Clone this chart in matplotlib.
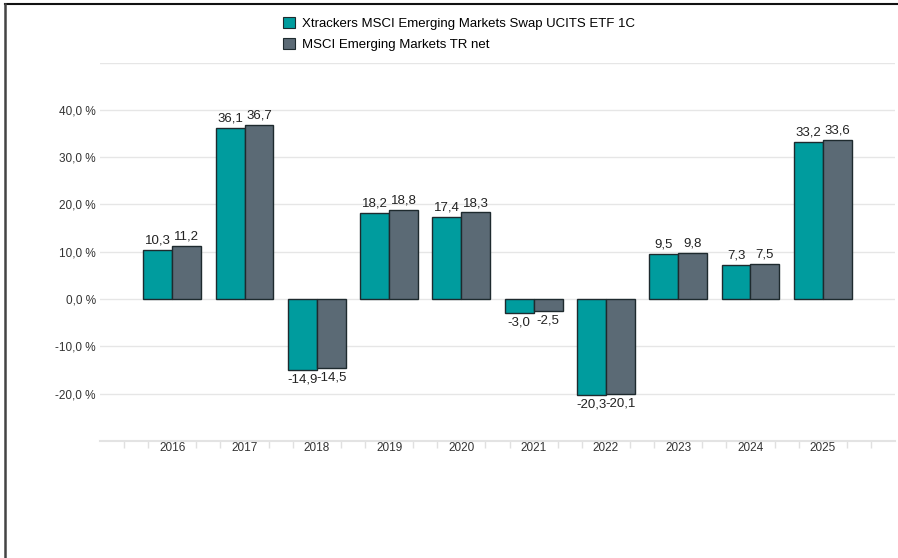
import matplotlib.pyplot as plt
from matplotlib.lines import Line2D
from matplotlib.patches import Patch
import numpy as np

years = ["2016", "2017", "2018", "2019", "2020", "2021", "2022", "2023", "2024", "2025"]
etf = [10.3, 36.1, -14.9, 18.2, 17.4, -3.0, -20.3, 9.5, 7.3, 33.2]
index = [11.2, 36.7, -14.5, 18.8, 18.3, -2.5, -20.1, 9.8, 7.5, 33.6]
series_names = ["Xtrackers MSCI Emerging Markets Swap UCITS ETF 1C",
                "MSCI Emerging Markets TR net"]
y_ticks = [-20, -10, 0, 10, 20, 30, 40]

TEAL = "#009c9e"
GREY = "#5b6a75"
EDGE = "#1e2a2e"

plt.rcParams.update({
    "font.family": ["Liberation Sans", "DejaVu Sans"],
    "font.size": 9,
})

fig = plt.figure(figsize=(8.98, 5.58), dpi=100)
ax = fig.add_axes([100 / 898, 1 - 441 / 558, 795 / 898, (441 - 62.5) / 558])

x = np.arange(len(years))
w = 0.4
b1 = ax.bar(x - w / 2, etf, w, color=TEAL, edgecolor=EDGE, linewidth=1.0, zorder=3)
b2 = ax.bar(x + w / 2, index, w, color=GREY, edgecolor=EDGE, linewidth=1.0, zorder=3)


def fmt(v):
    return f"{v:.1f}".replace(".", ",")


# value labels above / below each bar
for bars, vals in [(b1, etf), (b2, index)]:
    for bar, v in zip(bars, vals):
        cx = bar.get_x() + bar.get_width() / 2
        if v >= 0:
            ax.annotate(fmt(v), (cx, v), xytext=(0, 2.5), textcoords="offset points",
                        ha="center", va="bottom", fontsize=9.5, color="#222222")
        else:
            ax.annotate(fmt(v), (cx, v), xytext=(0, -2.5), textcoords="offset points",
                        ha="center", va="top", fontsize=9.5, color="#222222")

ax.set_xlim(-1, len(years))
ax.set_ylim(-30, 50)

# grid lines
for g in range(-20, 51, 10):
    ax.axhline(g, color="#e6e6e6", linewidth=1.0, zorder=1)

ax.set_yticks(y_ticks)
ax.set_yticklabels([f"{t:.1f} %".replace(".", ",") for t in y_ticks])
ax.tick_params(axis="y", length=0, pad=3, labelsize=8.5, labelcolor="#333333")

ax.set_xticks(x)
ax.set_xticklabels(years)
ax.tick_params(axis="x", which="major", length=0, pad=1, labelsize=8.5, labelcolor="#333333")
minor = [p / 3 for p in range(-3, 3 * len(years) + 1) if p % 3 != 0]
ax.set_xticks(minor, minor=True)
ax.tick_params(axis="x", which="minor", length=5, width=1.0, color="#e0e0e0", direction="out")

for s in ["top", "right", "left"]:
    ax.spines[s].set_visible(False)
ax.spines["bottom"].set_color("#e3e3e3")
ax.spines["bottom"].set_linewidth(1.5)

handles = [Patch(facecolor=TEAL, edgecolor=EDGE, linewidth=0.8),
           Patch(facecolor=GREY, edgecolor=EDGE, linewidth=0.8)]
fig.legend(handles, series_names, loc="upper left", bbox_to_anchor=(278 / 898, 1 - 12 / 558),
           frameon=False, fontsize=9.5, handlelength=0.9, handleheight=0.9,
           handletextpad=0.5, labelspacing=0.55, borderaxespad=0)

# screenshot frame
fig.add_artist(Line2D([5 / 898, 1], [1 - 4 / 558, 1 - 4 / 558], color="#111111", linewidth=1.5))
fig.add_artist(Line2D([5 / 898, 5 / 898], [0, 1 - 4 / 558], color="#444444", linewidth=1.8))

fig.savefig("out.png", dpi=100)
